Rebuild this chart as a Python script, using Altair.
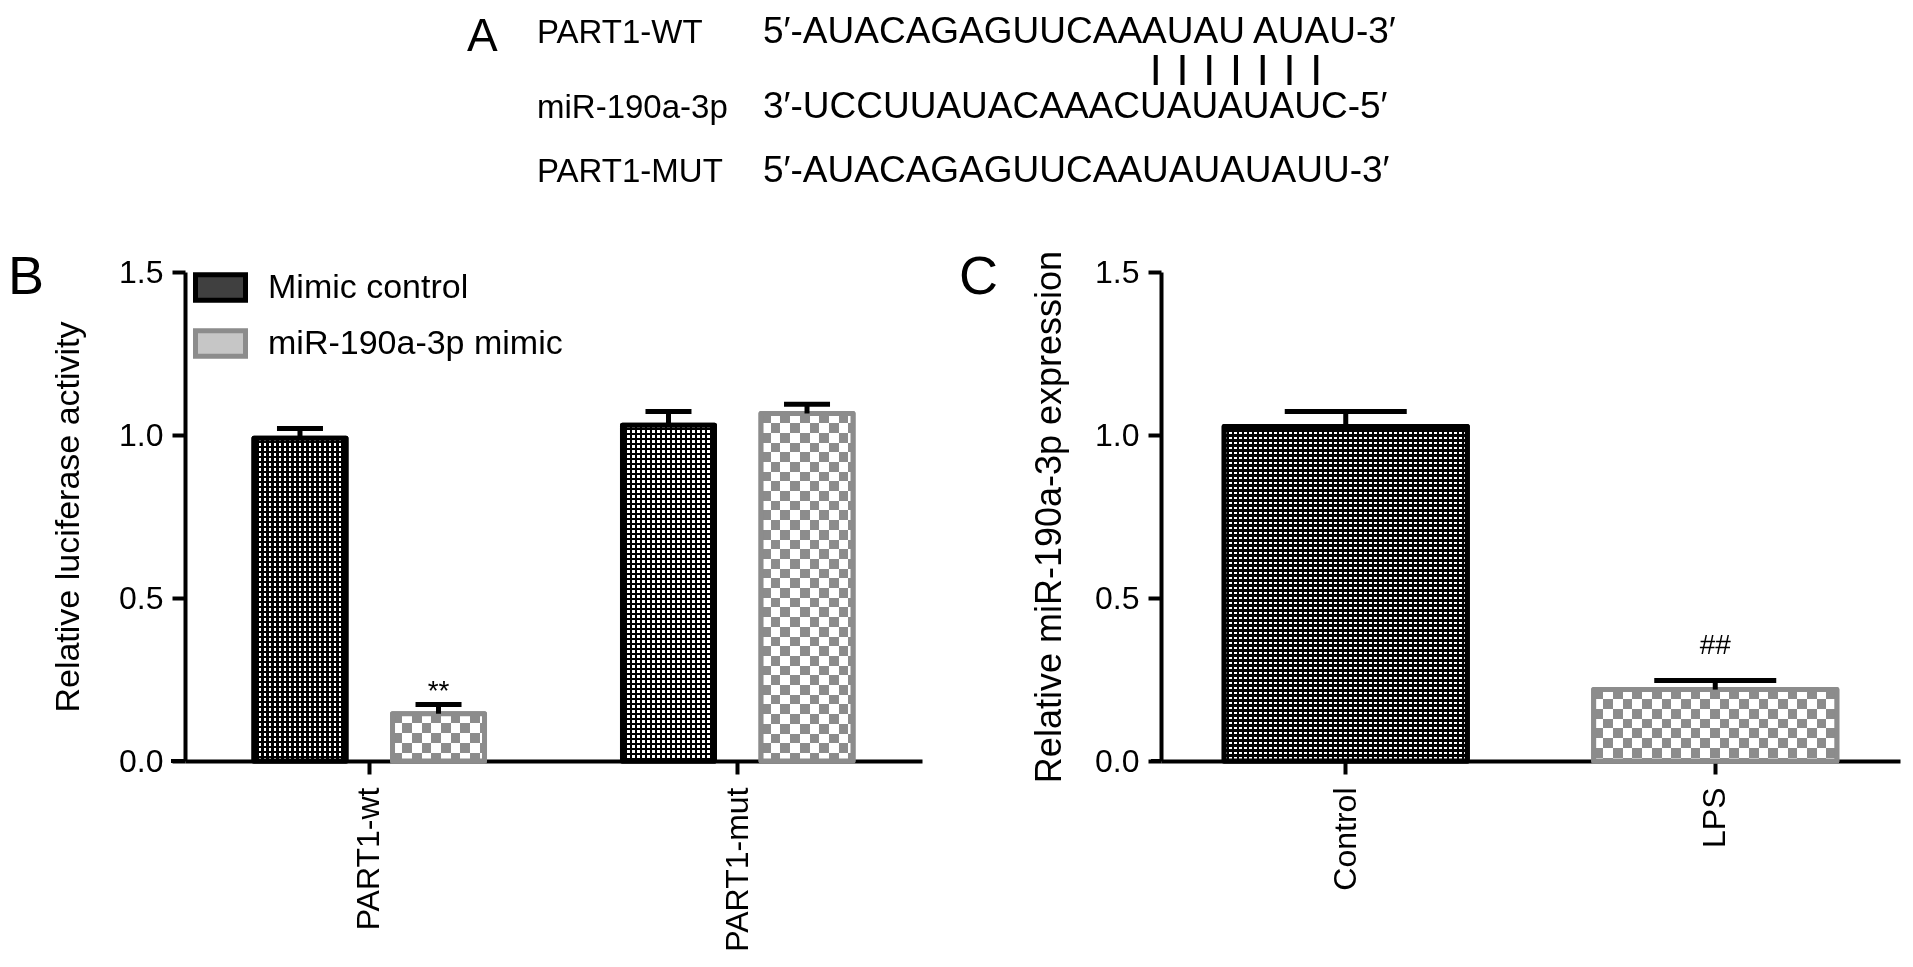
import altair as alt
import pandas as pd

FONT = "Liberation Sans"

# ---------------- Panel A: sequences ----------------
seq_names = ["PART1-WT", "miR-190a-3p", "PART1-MUT"]
seq_strings = [
    "5′-AUACAGAGUUCAAAUAU AUAU-3′",
    "3′-UCCUUAUACAAACUAUAUAUC-5′",
    "5′-AUACAGAGUUCAAUAUAUAUU-3′",
]
pair_mark = "\u2007".join(["|"] * 7)

# ---------------- Panel B: luciferase ----------------
b_groups = ["PART1-wt", "PART1-mut"]
b_series = ["Mimic control", "miR-190a-3p mimic"]
b_mimic_control = [0.99, 1.03]
b_mimic_control_err = [0.03, 0.042]
b_mir_mimic = [0.145, 1.066]
b_mir_mimic_err = [0.028, 0.028]
b_mimic_control_sig = ["", ""]
b_mir_mimic_sig = ["**", ""]

# ---------------- Panel C: expression ----------------
c_groups = ["Control", "LPS"]
c_values = [1.026, 0.219]
c_err = [0.046, 0.028]
c_sig = ["", "##"]

y_ticks = [0.0, 0.5, 1.0, 1.5]

# ---------------- tables ----------------
b_vals = {b_series[0]: b_mimic_control, b_series[1]: b_mir_mimic}
rows = []
for s, vals, errs, sigs in [
    (b_series[0], b_mimic_control, b_mimic_control_err, b_mimic_control_sig),
    (b_series[1], b_mir_mimic, b_mir_mimic_err, b_mir_mimic_sig),
]:
    for g, v, e, sg in zip(b_groups, vals, errs, sigs):
        rows.append({"group": g, "series": s, "value": v, "upper": v + e, "sig": sg})
df_b = pd.DataFrame(rows)

df_c = pd.DataFrame({
    "group": c_groups,
    "value": c_values,
    "upper": [v + e for v, e in zip(c_values, c_err)],
    "sig": c_sig,
})
df_a = pd.DataFrame({"name": seq_names, "seq": seq_strings, "row": [0, 1, 2]})
one = pd.DataFrame({"k": [0]})

# ---------------- layout / style ----------------
PW_B, PW_C, PH, GAP = 737, 739, 489, 239
YMAX = 1.5
DARK_FILL, DARK_STROKE = "#404040", "#000000"
LIGHT_FILL, LIGHT_STROKE = "#c6c6c6", "#8c8c8c"
CHECK_GRAY = "#8c8c8c"
B_INNER_PI, B_INNER_PO = 0.336, 0.498
C_PI, C_PO = 0.342, 0.171
BW_B = (PW_B / 2) / (2 - B_INNER_PI + 2 * B_INNER_PO) * (1 - B_INNER_PI)
BW_C = PW_C / (2 - C_PI + 2 * C_PO) * (1 - C_PI)
DOT_PERIOD, DOT_SIZE = 5.0, 2.5
CELL = 9.7
CLEAR = "rgba(0,0,0,0)"


def stripes(length_px, period, on_px, on_color, off_color, along_y):
    """Hard-edged stripe gradient (pattern look) in the mark's bounding box."""
    stops = []
    pos = 0.0
    while pos < length_px - 1e-6:
        a = round(pos / length_px, 5)
        b = round(min((pos + on_px) / length_px, 1.0), 5)
        c = round(min((pos + period) / length_px, 1.0), 5)
        stops += [{"offset": a, "color": on_color}, {"offset": b, "color": on_color}]
        if b < 1.0:
            stops += [{"offset": b, "color": off_color}, {"offset": c, "color": off_color}]
        pos += period
    return {"gradient": "linear", "x1": 0, "y1": 0,
            "x2": 0 if along_y else 1, "y2": 1 if along_y else 0, "stops": stops}


x_axis = alt.Axis(title=None, labelAngle=-90, labelPadding=13, labelLimit=0, labelFontSize=32)


def y_axis(title, title_x, title_size):
    return alt.Axis(title=title, values=y_ticks, format=".1f", labelPadding=9,
                    titleX=title_x, titleBaseline="middle", titleAngle=-90,
                    titleFontSize=title_size)


def yq(field, axis):
    return alt.Y(f"{field}:Q", scale=alt.Scale(domain=[0, YMAX], nice=False), axis=axis)


def pattern_layers(base, enc, kind, bar_width, bar_values, bar_filters, stroke_color):
    """Fill layers that draw a dot or checker texture inside each bar, then its outline."""
    out = []
    if kind == "dots":
        out.append(base.mark_bar(fill=stripes(bar_width, DOT_PERIOD, DOT_SIZE, "#ffffff", "#000000", False)).encode(**enc))
        for flt, v in zip(bar_filters, bar_values):
            h = v / YMAX * PH
            out.append(base.transform_filter(flt).mark_bar(
                fill=stripes(h, DOT_PERIOD, DOT_SIZE, CLEAR, "#000000", True)).encode(**enc))
    else:
        out.append(base.mark_bar(fill=stripes(bar_width, 2 * CELL, CELL, "#ffffff", "#000000", False)).encode(**enc))
        for flt, v in zip(bar_filters, bar_values):
            h = v / YMAX * PH
            out.append(base.transform_filter(flt).mark_bar(
                fill=stripes(h, 2 * CELL, CELL, "#ffffff", CLEAR, True), blend="difference").encode(**enc))
        out.append(base.mark_bar(fill=CHECK_GRAY, blend="screen").encode(**enc))
    out.append(base.mark_bar(fill="#ffffff", fillOpacity=0, stroke=stroke_color, strokeWidth=5,
                             strokeJoin="round").encode(**enc))
    return out


# ---- Panel B ----
yb_axis = y_axis("Relative luciferase activity", -117, 34)
xb = alt.X("group:N", sort=b_groups,
           scale=alt.Scale(domain=b_groups, paddingInner=0, paddingOuter=0), axis=x_axis)
xob = alt.XOffset("series:N", sort=b_series,
                  scale=alt.Scale(domain=b_series, paddingInner=B_INNER_PI, paddingOuter=B_INNER_PO))
legend = alt.Legend(title=None, orient="none", legendX=8, legendY=-12,
                    symbolType="M-1,-0.51H1V0.51H-1Z", symbolSize=2500,
                    symbolStrokeWidth=5, symbolOpacity=1, labelFont=FONT,
                    labelFontSize=34, labelColor="black", labelOffset=20,
                    rowPadding=5, labelLimit=0)

base_b = alt.Chart(df_b)
enc_b = dict(x=xb, xOffset=xob, y=yq("value", yb_axis))
bars_b = base_b.mark_bar(strokeWidth=5, strokeJoin="round").encode(
    **enc_b,
    fill=alt.Fill("series:N", scale=alt.Scale(domain=b_series, range=[DARK_FILL, LIGHT_FILL]), legend=legend),
    stroke=alt.Stroke("series:N", scale=alt.Scale(domain=b_series, range=[DARK_STROKE, LIGHT_STROKE]), legend=legend),
)
b_pattern = []
for s, kind, stroke_color in zip(b_series, ["dots", "checker"], [DARK_STROKE, LIGHT_STROKE]):
    sub = base_b.transform_filter(alt.datum.series == s)
    filters = [(alt.datum.series == s) & (alt.datum.group == g) for g in b_groups]
    b_pattern += pattern_layers(sub, enc_b, kind, BW_B, b_vals[s], filters, stroke_color)

err_b = base_b.mark_rule(color="black", strokeWidth=5).encode(
    x=xb, xOffset=xob, y=yq("value", yb_axis), y2="upper:Q")
cap_b = base_b.mark_tick(color="black", thickness=5, size=46, opacity=1).encode(
    x=xb, xOffset=xob, y=yq("upper", yb_axis))
sig_b = base_b.mark_text(font=FONT, fontSize=28, baseline="alphabetic", dy=-5, color="black").encode(
    x=xb, xOffset=xob, y=yq("upper", yb_axis), text="sig:N")
letter_b = alt.Chart(one).mark_text(text="B", font=FONT, fontSize=54, align="left",
                                     baseline="alphabetic", color="black").encode(
    x=alt.value(-177), y=alt.value(22))
ext_b = alt.Chart(one).mark_rule(color="black", strokeWidth=4).encode(
    x=alt.value(-14), x2=alt.value(0), y=alt.value(PH))

# Panel A (drawn above panel B)
A_ROW_Y = [-229, -154, -90]
a_layers = [alt.Chart(one).mark_text(text="A", font=FONT, fontSize=46, align="left",
                                      baseline="alphabetic", color="black").encode(
    x=alt.value(282), y=alt.value(-221))]
for i in range(3):
    sub = alt.Chart(df_a).transform_filter(alt.datum.row == i)
    a_layers.append(sub.mark_text(font=FONT, fontSize=33, align="left", baseline="alphabetic",
                                  color="black").encode(
        x=alt.value(352), y=alt.value(A_ROW_Y[i]), text="name:N"))
    a_layers.append(sub.mark_text(font=FONT, fontSize=37, align="left", baseline="alphabetic",
                                  color="black").encode(
        x=alt.value(578), y=alt.value(A_ROW_Y[i]), text="seq:N"))
a_layers.append(alt.Chart(one).mark_text(text=pair_mark, font=FONT, fontSize=32, fontWeight="bold",
                                          align="center", baseline="middle", color="black").encode(
    x=alt.value(1051), y=alt.value(-204)))

panel_b = alt.layer(bars_b, *b_pattern, err_b, cap_b, sig_b, letter_b, ext_b, *a_layers).properties(
    width=PW_B, height=PH)

# ---- Panel C ----
yc_axis = y_axis("Relative miR-190a-3p expression", -112, 36)
xc = alt.X("group:N", sort=c_groups,
           scale=alt.Scale(domain=c_groups, paddingInner=C_PI, paddingOuter=C_PO), axis=x_axis)
base_c = alt.Chart(df_c)
enc_c = dict(x=xc, y=yq("value", yc_axis))
bars_c = base_c.mark_bar(strokeWidth=5, strokeJoin="round").encode(
    **enc_c,
    fill=alt.Fill("group:N", scale=alt.Scale(domain=c_groups, range=[DARK_FILL, LIGHT_FILL]), legend=None),
    stroke=alt.Stroke("group:N", scale=alt.Scale(domain=c_groups, range=[DARK_STROKE, LIGHT_STROKE]), legend=None),
)
c_pattern = []
for g, v, kind, stroke_color in zip(c_groups, c_values, ["dots", "checker"], [DARK_STROKE, LIGHT_STROKE]):
    sub = base_c.transform_filter(alt.datum.group == g)
    c_pattern += pattern_layers(sub, enc_c, kind, BW_C, [v], [alt.datum.group == g], stroke_color)

err_c = base_c.mark_rule(color="black", strokeWidth=5).encode(
    x=xc, y=yq("value", yc_axis), y2="upper:Q")
cap_c = base_c.mark_tick(color="black", thickness=5, size=122, opacity=1).encode(
    x=xc, y=yq("upper", yc_axis))
sig_c = base_c.mark_text(font=FONT, fontSize=28, baseline="alphabetic", dy=-26, color="black").encode(
    x=xc, y=yq("upper", yc_axis), text="sig:N")
letter_c = alt.Chart(one).mark_text(text="C", font=FONT, fontSize=54, align="left",
                                     baseline="alphabetic", color="black").encode(
    x=alt.value(-202), y=alt.value(22))
ext_c = alt.Chart(one).mark_rule(color="black", strokeWidth=4).encode(
    x=alt.value(-10), x2=alt.value(0), y=alt.value(PH))

panel_c = alt.layer(bars_c, *c_pattern, err_c, cap_c, sig_c, letter_c, ext_c).properties(
    width=PW_C, height=PH)

chart = alt.hconcat(panel_b, panel_c, spacing=GAP, bounds="flush").resolve_scale(
    fill="independent", stroke="independent"
).properties(
    padding={"left": 0, "top": 5, "right": 5, "bottom": 0}
).configure_view(stroke=None).configure_axis(
    labelFont=FONT, labelFontSize=32, labelColor="black",
    titleFont=FONT, titleFontSize=32, titleColor="black", titleFontWeight="normal",
    domainColor="black", domainWidth=4, tickColor="black", tickWidth=4, tickSize=13,
    grid=False,
)

chart.save("out.html", embed_options={"renderer": "svg", "actions": False})
